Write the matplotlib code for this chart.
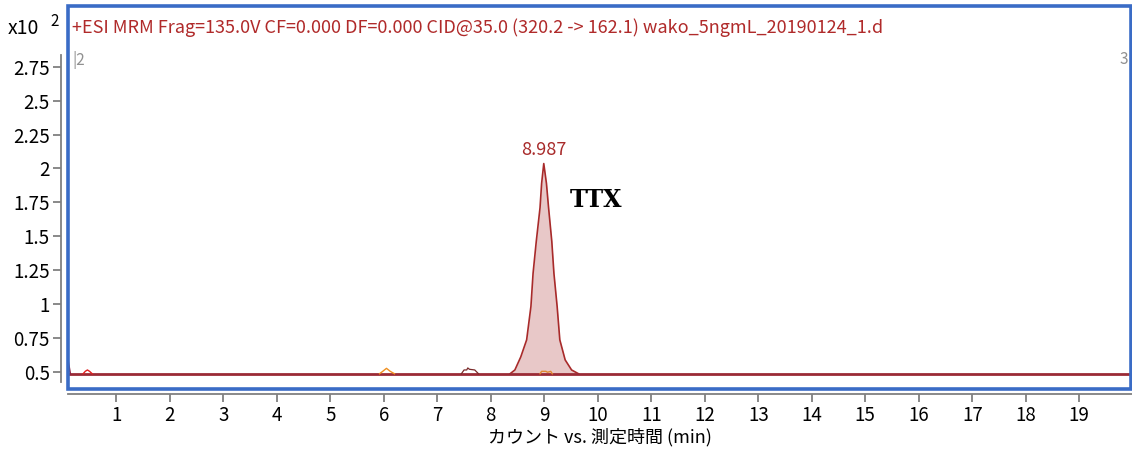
# -*- coding: utf-8 -*-
# cromatograma MRM de TTX
import matplotlib.pyplot as plt
from matplotlib.patches import Rectangle

plt.rcParams['font.family'] = ['Noto Sans CJK JP', 'DejaVu Sans']

# linea base
base_t = [0.10, 19.99]
base_y = [0.487, 0.487]

# pico TTX
peak_t = [8.36, 8.45, 8.56, 8.67, 8.75, 8.79, 8.85, 8.92, 8.95, 8.99,
          9.04, 9.08, 9.14, 9.18, 9.24, 9.29, 9.39, 9.51, 9.64]
peak_y = [0.487, 0.515, 0.611, 0.737, 0.983, 1.227, 1.463, 1.710, 1.89, 2.036,
          1.89, 1.710, 1.463, 1.227, 0.983, 0.737, 0.589, 0.515, 0.487]

# pequeños picos de ruido
spike_t = [0.10, 0.10, 0.14]
spike_y = [0.487, 0.58, 0.487]
red_t = [0.38, 0.42, 0.46, 0.50, 0.55]
red_y = [0.487, 0.505, 0.515, 0.505, 0.487]
orange1_t = [5.92, 5.98, 6.05, 6.12, 6.20]
orange1_y = [0.487, 0.505, 0.527, 0.505, 0.487]
orange2_t = [8.92, 8.95, 9.03, 9.06, 9.12, 9.15]
orange2_y = [0.487, 0.505, 0.505, 0.498, 0.505, 0.487]
dark_t = [7.45, 7.50, 7.55, 7.57, 7.60, 7.70, 7.77]
dark_y = [0.487, 0.515, 0.515, 0.53, 0.52, 0.515, 0.487]

xticks = list(range(1, 20))
yticks = [0.5, 0.75, 1, 1.25, 1.5, 1.75, 2, 2.25, 2.5, 2.75]
ytick_labels = ['0.5', '0.75', '1', '1.25', '1.5', '1.75', '2', '2.25', '2.5', '2.75']

W, H = 1132, 451
fig = plt.figure(figsize=(W / 100, H / 100), dpi=100)

def fx(px):
    return px / W

def fy(py):
    return 1 - py / H

# ejes: pixel 68..1132 en x, 5..394 en y
ax = fig.add_axes([fx(68), fy(394), fx(1132) - fx(68), fy(5) - fy(394)])
ax.patch.set_alpha(0)
x0, sx = 62.8, 53.5
ax.set_xlim((68 - x0) / sx, (1132 - x0) / sx)
y0, sy = 372, 135.7
ax.set_ylim(0.5 - (394 - y0) / sy, 0.5 + (y0 - 5) / sy)

ax.fill_between(peak_t, peak_y, 0.487, color='#e8c8c8', lw=0)
ax.plot(peak_t, peak_y, color='#a82a2a', lw=1.2)
ax.plot(base_t, base_y, color='#9a2a35', lw=2.0)
ax.plot(spike_t, spike_y, color='#8a2040', lw=1.2)
ax.plot(red_t, red_y, color='#e02020', lw=1.0)
ax.plot(orange1_t, orange1_y, color='#f09020', lw=1.0)
ax.plot(orange2_t, orange2_y, color='#e08830', lw=1.0)
ax.plot(dark_t, dark_y, color='#7a2a2a', lw=0.9)

for s in ['top', 'right']:
    ax.spines[s].set_visible(False)
ax.spines['left'].set_position(('outward', 5))
ax.spines['left'].set_bounds(0.5 - (382 - y0) / sy, 0.5 + (y0 - 55) / sy)
ax.spines['left'].set_color('#808080')
ax.spines['left'].set_linewidth(1.3)
ax.spines['bottom'].set_color('#808080')
ax.spines['bottom'].set_linewidth(1.3)

ax.set_xticks(xticks)
ax.set_yticks(yticks)
ax.set_yticklabels(ytick_labels)
ax.tick_params(axis='both', color='#808080', width=1.3, length=6,
               labelsize=13.5, labelcolor='black', pad=2)
ax.set_xlabel('カウント vs. 測定時間 (min)', fontsize=13, labelpad=1)

# marco azul
fig.patches.append(Rectangle((fx(68), fy(389)), fx(1131) - fx(68), fy(6) - fy(389),
                             transform=fig.transFigure, fill=False,
                             edgecolor='#3a6cc6', lw=2.6, zorder=5))

fig.text(fx(8), fy(28), 'x10', fontsize=14, va='center', ha='left')
fig.text(fx(50), fy(22), '2', fontsize=11, va='center', ha='left')
fig.text(fx(72), fy(28),
         '+ESI MRM Frag=135.0V CF=0.000 DF=0.000 CID@35.0 (320.2 -> 162.1) wako_5ngmL_20190124_1.d',
         fontsize=13, color='#b02a2a', va='center', ha='left')
fig.text(fx(72), fy(60), '|2', fontsize=11, color='#909090', va='center', ha='left')
fig.text(fx(1120), fy(60), '3', fontsize=11, color='#909090', va='center', ha='left')

ax.text(8.987, 2.07, '8.987', color='#a82a2a', fontsize=13, ha='center', va='bottom')
ax.text(9.48, 1.77, 'TTX', family='DejaVu Serif', fontweight='bold', fontsize=17,
        color='black', ha='left', va='center')

fig.savefig('out.png', dpi=100)
